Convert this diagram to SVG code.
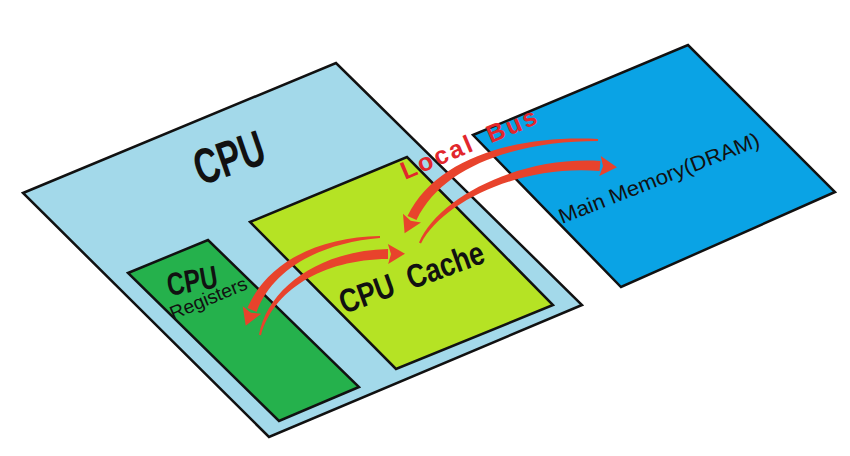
<svg xmlns="http://www.w3.org/2000/svg" width="850" height="456" viewBox="0 0 850 456">
  <style>
    .box { stroke: #111; stroke-width: 2.5; stroke-linejoin: miter; }
    .lbl { font-family: "Liberation Sans", Arial, sans-serif; fill: #111; }
    .bus { fill: #e8432c; stroke: none; }
  </style>
  <rect width="850" height="456" fill="#ffffff"/>

  <g id="cpu">
    <polygon class="box" points="23,193 336,63 582,305 269,437" fill="#a3d9ea"/>
    <text class="lbl" transform="translate(229,157) rotate(-19)" x="0" y="18" font-size="50" font-weight="bold" text-anchor="middle" textLength="72" lengthAdjust="spacingAndGlyphs">CPU</text>
  </g>

  <g id="cache">
    <polygon class="box" points="250,222 407,157 553,305 396,369" fill="#b5e324"/>
    <text class="lbl" transform="translate(344,314) rotate(-20)" x="0" y="0" font-size="33" font-weight="bold" textLength="152" lengthAdjust="spacingAndGlyphs" xml:space="preserve">CPU  Cache</text>
  </g>

  <g id="registers">
    <polygon class="box" points="128,273 208,240 359,387 279,421" fill="#25b14c"/>
    <text class="lbl" transform="translate(169,296) rotate(-10)" x="0" y="0" font-size="32" font-weight="bold" textLength="51" lengthAdjust="spacingAndGlyphs">CPU</text>
    <text class="lbl" transform="translate(173,320) rotate(-22.5)" x="0" y="0" font-size="19" textLength="82" lengthAdjust="spacingAndGlyphs">Registers</text>
  </g>

  <g id="memory">
    <polygon class="box" points="473,135 688,45 835,192 621,287" fill="#0aa3e5"/>
    <text class="lbl" transform="translate(562,224) rotate(-21.5)" x="0" y="0" font-size="21" textLength="214" lengthAdjust="spacingAndGlyphs">Main Memory(DRAM)</text>
  </g>

  <g id="connectors">
    <path class="bus" d="M598,139 C520,135 437,156 407.5,216 L416.5,220 C443,164 520,141 598,141 Z"/>
    <path class="bus" d="M403,213.7 L404.6,233.3 L421,222.4 L410.7,220.7 Z"/>

    <path class="bus" d="M419,242.6 C437.6,198.2 519,155.6 600.4,161 L599.6,171 C521,164.4 442.4,201.8 421,243.4 Z"/>
    <path class="bus" d="M600.75,156 L617,167.3 L599.25,176 L603,166.2 Z"/>

    <path class="bus" d="M380,236 C319.7,237 267.3,261.4 247.4,308.1 L256.6,311.9 C272.7,268.6 320.3,243 380,238 Z"/>
    <path class="bus" d="M242.7,306.3 L245.7,325.8 L261.3,313.7 L250.9,312.8 Z"/>

    <path class="bus" d="M259,334.8 C267.5,288.5 318.6,250.7 388,249 L388,259 C321.4,259.3 272.5,291.5 261,335.2 Z"/>
    <path class="bus" d="M387.85,244 L405,253.7 L388.15,264 L391,254 Z"/>
  </g>

  <g id="bus-label">
    <text transform="translate(405,180) rotate(-23)" x="0" y="0" font-family="Liberation Sans, Arial, sans-serif" font-size="25" font-weight="bold" fill="#e2262c" letter-spacing="2.5" word-spacing="6" xml:space="preserve">Local Bus</text>
  </g>
</svg>
